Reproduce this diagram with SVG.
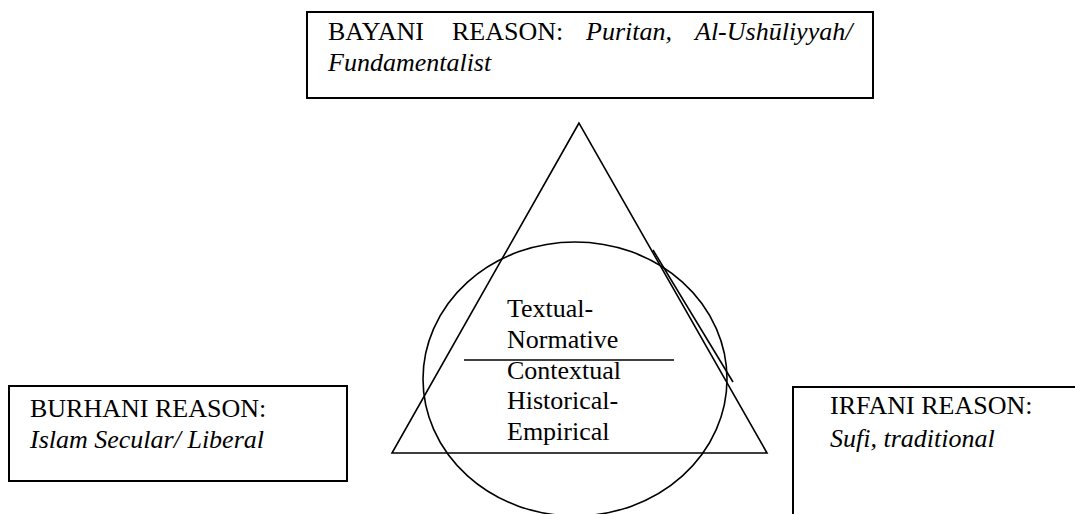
<svg xmlns="http://www.w3.org/2000/svg" width="1075" height="514" viewBox="0 0 1075 514">
<style>
.box{fill:#fff;stroke:#000;stroke-width:2}
.sh{fill:none;stroke:#000;stroke-width:1.6}
.t{font-family:'Liberation Serif','Times New Roman',Times,serif;font-size:26px;fill:#000}
.i{font-style:italic}
</style>
<rect width="1075" height="514" fill="#fff"/>
<g id="connectors">
<polygon class="sh" points="579,123 392,453 767,453"/>
<ellipse class="sh" cx="575" cy="379" rx="152" ry="137"/>
<line class="sh" x1="464" y1="360" x2="674" y2="360"/>
<line class="sh" x1="653" y1="250" x2="733" y2="382"/>
</g>
<g id="bayani" class="t">
<rect class="box" x="307" y="12" width="566" height="86"/>
<text x="328" y="40">BAYANI</text>
<text x="452" y="40">REASON:</text>
<text class="i" x="586" y="40">Puritan,</text>
<text class="i" x="695" y="40">Al-Ushūliyyah/</text>
<text class="i" x="328" y="71">Fundamentalist</text>
</g>
<g id="center" class="t">
<text x="507" y="317">Textual-</text>
<text x="507" y="348">Normative</text>
<text x="507" y="379">Contextual</text>
<text x="507" y="409">Historical-</text>
<text x="507" y="440">Empirical</text>
</g>
<g id="burhani" class="t">
<rect class="box" x="9" y="386" width="338" height="95"/>
<text x="30" y="417">BURHANI REASON:</text>
<text class="i" x="30" y="448">Islam Secular/ Liberal</text>
</g>
<g id="irfani" class="t">
<rect class="box" x="793" y="387" width="300" height="200"/>
<text x="830" y="414">IRFANI REASON:</text>
<text class="i" x="830" y="447">Sufi, traditional</text>
</g>
</svg>
